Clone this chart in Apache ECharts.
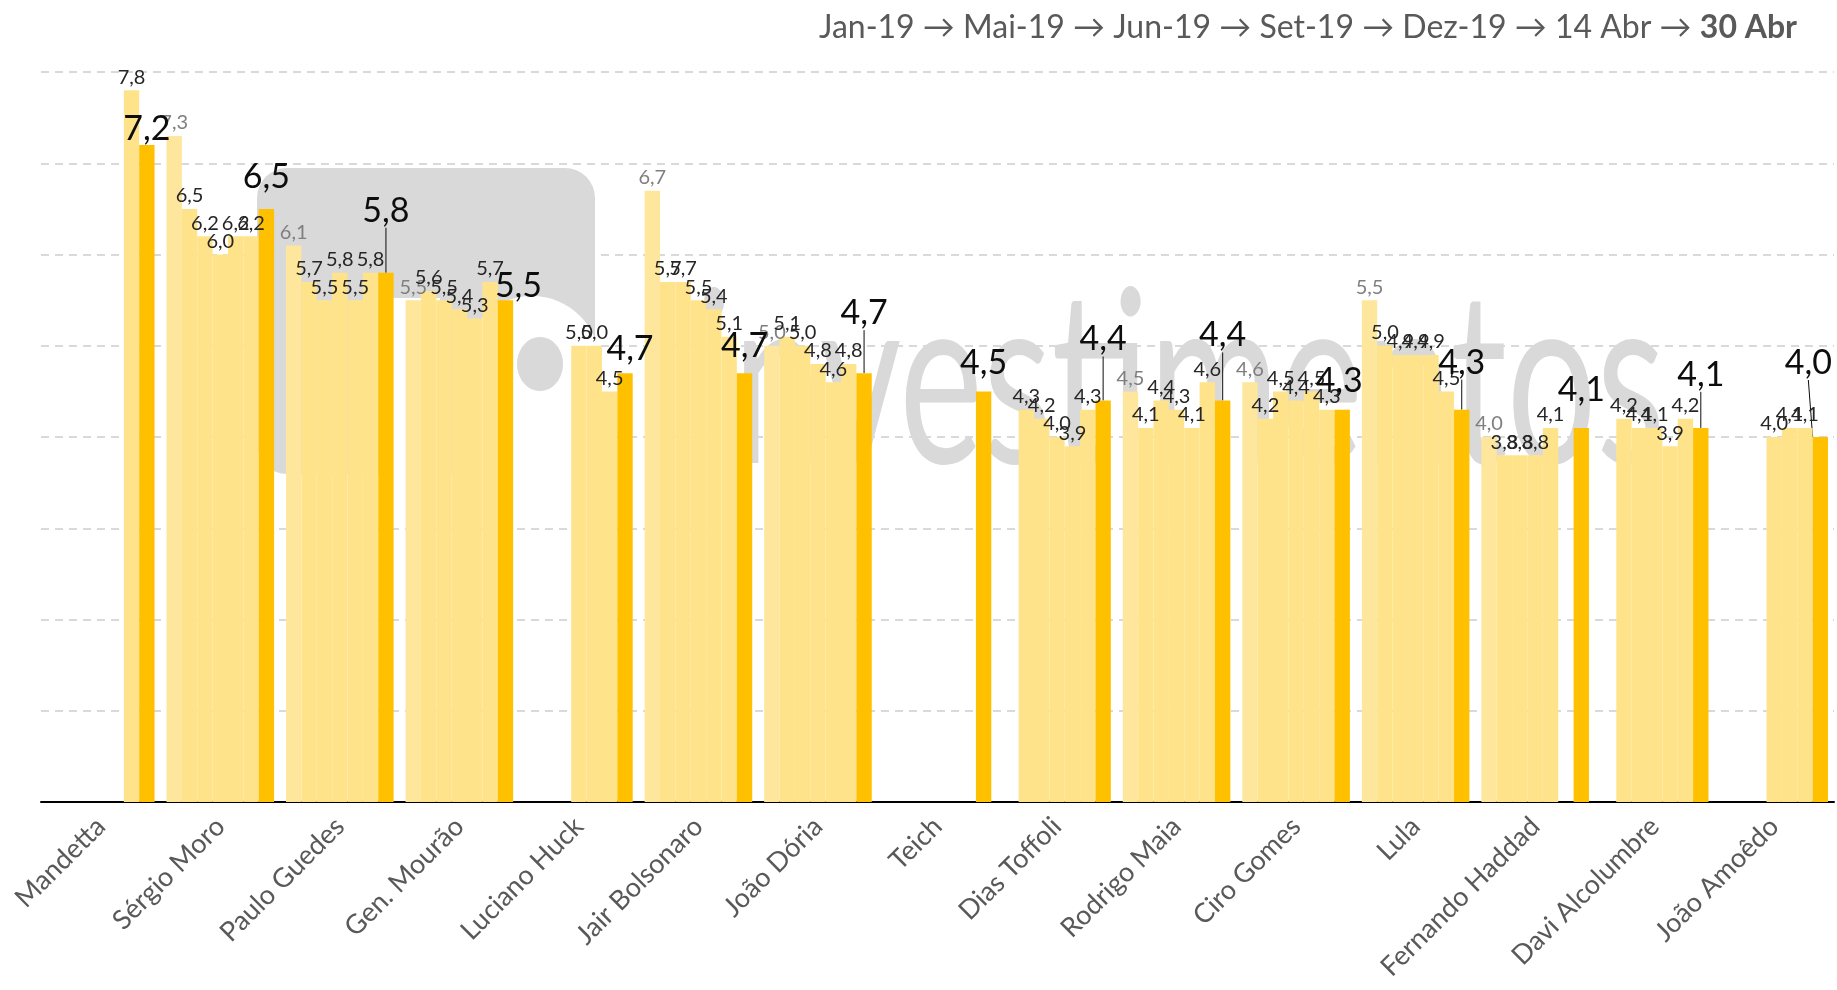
<!DOCTYPE html>
<html>
<head>
    <meta charset="utf-8">
    <title>Avaliação</title>
    <script src="https://cdn.jsdelivr.net/npm/echarts@6/dist/echarts.min.js"></script>
    <style>
        html, body { margin: 0; padding: 0; background: #fff; }
        #chart { width: 1837px; height: 990px; }
    </style>
</head>
<body>
<div id="chart"></div>
<script>
    // dados
    var nomes = ['Mandetta', 'Sérgio Moro', 'Paulo Guedes', 'Gen. Mourão', 'Luciano Huck', 'Jair Bolsonaro',
        'João Dória', 'Teich', 'Dias Toffoli', 'Rodrigo Maia', 'Ciro Gomes', 'Lula', 'Fernando Haddad',
        'Davi Alcolumbre', 'João Amoêdo'];
    var periodos = ['Jan-19', 'Mai-19', 'Jun-19', 'Set-19', 'Dez-19', '14 Abr', '30 Abr'];

    var jan19 = [null, 7.3, 6.1, 5.5, null, 6.7, 5.0, null, null, 4.5, 4.6, 5.5, 4.0, null, null];
    var mai19 = [null, 6.5, 5.7, 5.6, null, 5.7, 5.1, null, 4.3, 4.1, 4.2, 5.0, 3.8, 4.2, null];
    var jun19 = [null, 6.2, 5.5, 5.5, null, 5.7, 5.0, null, 4.2, 4.4, 4.5, 4.9, 3.8, 4.1, null];
    var set19 = [null, 6.0, 5.8, 5.4, 5.0, 5.5, 4.8, null, 4.0, 4.3, 4.4, 4.9, 3.8, 4.1, 4.0];
    var dez19 = [null, 6.2, 5.5, 5.3, 5.0, 5.4, 4.6, null, 3.9, 4.1, 4.5, 4.9, 4.1, 3.9, 4.1];
    var abr14 = [7.8, 6.2, 5.8, 5.7, 4.5, 5.1, 4.8, null, 4.3, 4.6, 4.3, 4.5, null, 4.2, 4.1];
    var abr30 = [7.2, 6.5, 5.8, 5.5, 4.7, 4.7, 4.7, 4.5, 4.4, 4.4, 4.3, 4.3, 4.1, 4.1, 4.0];

    // deslocamento dos rótulos grandes (estilo, não dados)
    var desloc = [[0, 6], [0, -10], [0, -40], [13, 8], [5, -2], [0, -5], [0, -38], [0, -6],
        [0, -39], [0, -43], [-3, -7], [0, -25], [0, -16], [0, -31], [-12, -52]];

    var fonte = 'Lato, "Open Sans", sans-serif';

    function fmt(p) {
        return p.value == null ? '' : p.value.toFixed(1).replace('.', ',');
    }

    function serieClara(nome, dados, cor, corTexto) {
        return {
            name: nome,
            type: 'bar',
            data: dados,
            barGap: '0%',
            barCategoryGap: '10%',
            itemStyle: { color: cor },
            label: {
                show: true,
                position: 'top',
                distance: 3,
                formatter: fmt,
                color: corTexto,
                fontSize: 20,
                fontFamily: fonte
            }
        };
    }

    var chart = echarts.init(document.getElementById('chart'));

    var option = {
        backgroundColor: '#fff',
        animation: false,
        title: {
            right: 35,
            top: 7,
            text: '{a|Jan-19 → Mai-19 → Jun-19 → Set-19 → Dez-19 → 14 Abr → }{b|30 Abr}',
            textStyle: {
                fontWeight: 'normal',
                rich: {
                    a: { fontSize: 32, color: '#595959', fontFamily: fonte, fontWeight: 'normal' },
                    b: { fontSize: 32, color: '#595959', fontFamily: fonte, fontWeight: 'bold' }
                }
            }
        },
        grid: { left: 41, right: 3, top: 72, bottom: 188 },
        graphic: [
            { type: 'rect', z: 1, shape: { x: 257, y: 168, width: 338, height: 306, r: 30 }, style: { fill: '#d9d9d9' } },
            { type: 'rect', z: 1, shape: { x: 393, y: 298, width: 47, height: 176 }, style: { fill: '#fff' } },
            { type: 'rect', z: 1, shape: { x: 470, y: 364, width: 125, height: 110 }, style: { fill: '#fff' } },
            { type: 'circle', z: 1, shape: { cx: 532, cy: 364, r: 68 }, style: { fill: '#fff' } },
            { type: 'ellipse', z: 1, shape: { cx: 540, cy: 364, rx: 23, ry: 27 }, style: { fill: '#d9d9d9' } },
            {
                type: 'text', z: 1, x: 695, y: 386, scaleX: 0.66,
                style: {
                    text: 'investimentos', fontSize: 240, fontFamily: fonte, fontWeight: 'normal',
                    fill: '#d9d9d9', align: 'left', verticalAlign: 'middle'
                }
            }
        ],
        xAxis: {
            type: 'category',
            data: nomes,
            axisLine: { lineStyle: { color: '#000', width: 2 } },
            axisTick: { show: false },
            axisLabel: {
                rotate: 45,
                interval: 0,
                margin: 20,
                color: '#595959',
                fontSize: 27,
                fontFamily: fonte
            }
        },
        yAxis: {
            type: 'value',
            min: 0,
            max: 8,
            interval: 1,
            axisLabel: { show: false },
            axisLine: { show: false },
            axisTick: { show: false },
            splitLine: { lineStyle: { type: [8, 6], color: '#d9d9d9', width: 2 } }
        },
        series: [
            serieClara(periodos[0], jan19, '#FEE69C', '#7f7f7f'),
            serieClara(periodos[1], mai19, '#FFE38A', '#262626'),
            serieClara(periodos[2], jun19, '#FFE38A', '#262626'),
            serieClara(periodos[3], set19, '#FFE38A', '#262626'),
            serieClara(periodos[4], dez19, '#FFE38A', '#262626'),
            serieClara(periodos[5], abr14, '#FFE38A', '#262626'),
            {
                name: periodos[6],
                type: 'bar',
                barGap: '0%',
                barCategoryGap: '10%',
                data: abr30.map(function (v, i) {
                    return { value: v, labelLine: { show: desloc[i][1] <= -25 } };
                }),
                itemStyle: { color: '#FFC000' },
                label: {
                    show: true,
                    position: 'top',
                    distance: 5,
                    formatter: fmt,
                    color: '#0d0d0d',
                    fontSize: 34,
                    fontFamily: fonte
                },
                labelLine: { lineStyle: { color: '#0d0d0d', width: 1 } },
                labelLayout: function (p) {
                    var d = desloc[p.dataIndex];
                    return { dx: d[0], dy: d[1] };
                }
            }
        ]
    };

    chart.setOption(option);

    window.onresize = function () {
        chart.resize();
    };
</script>
</body>
</html>
